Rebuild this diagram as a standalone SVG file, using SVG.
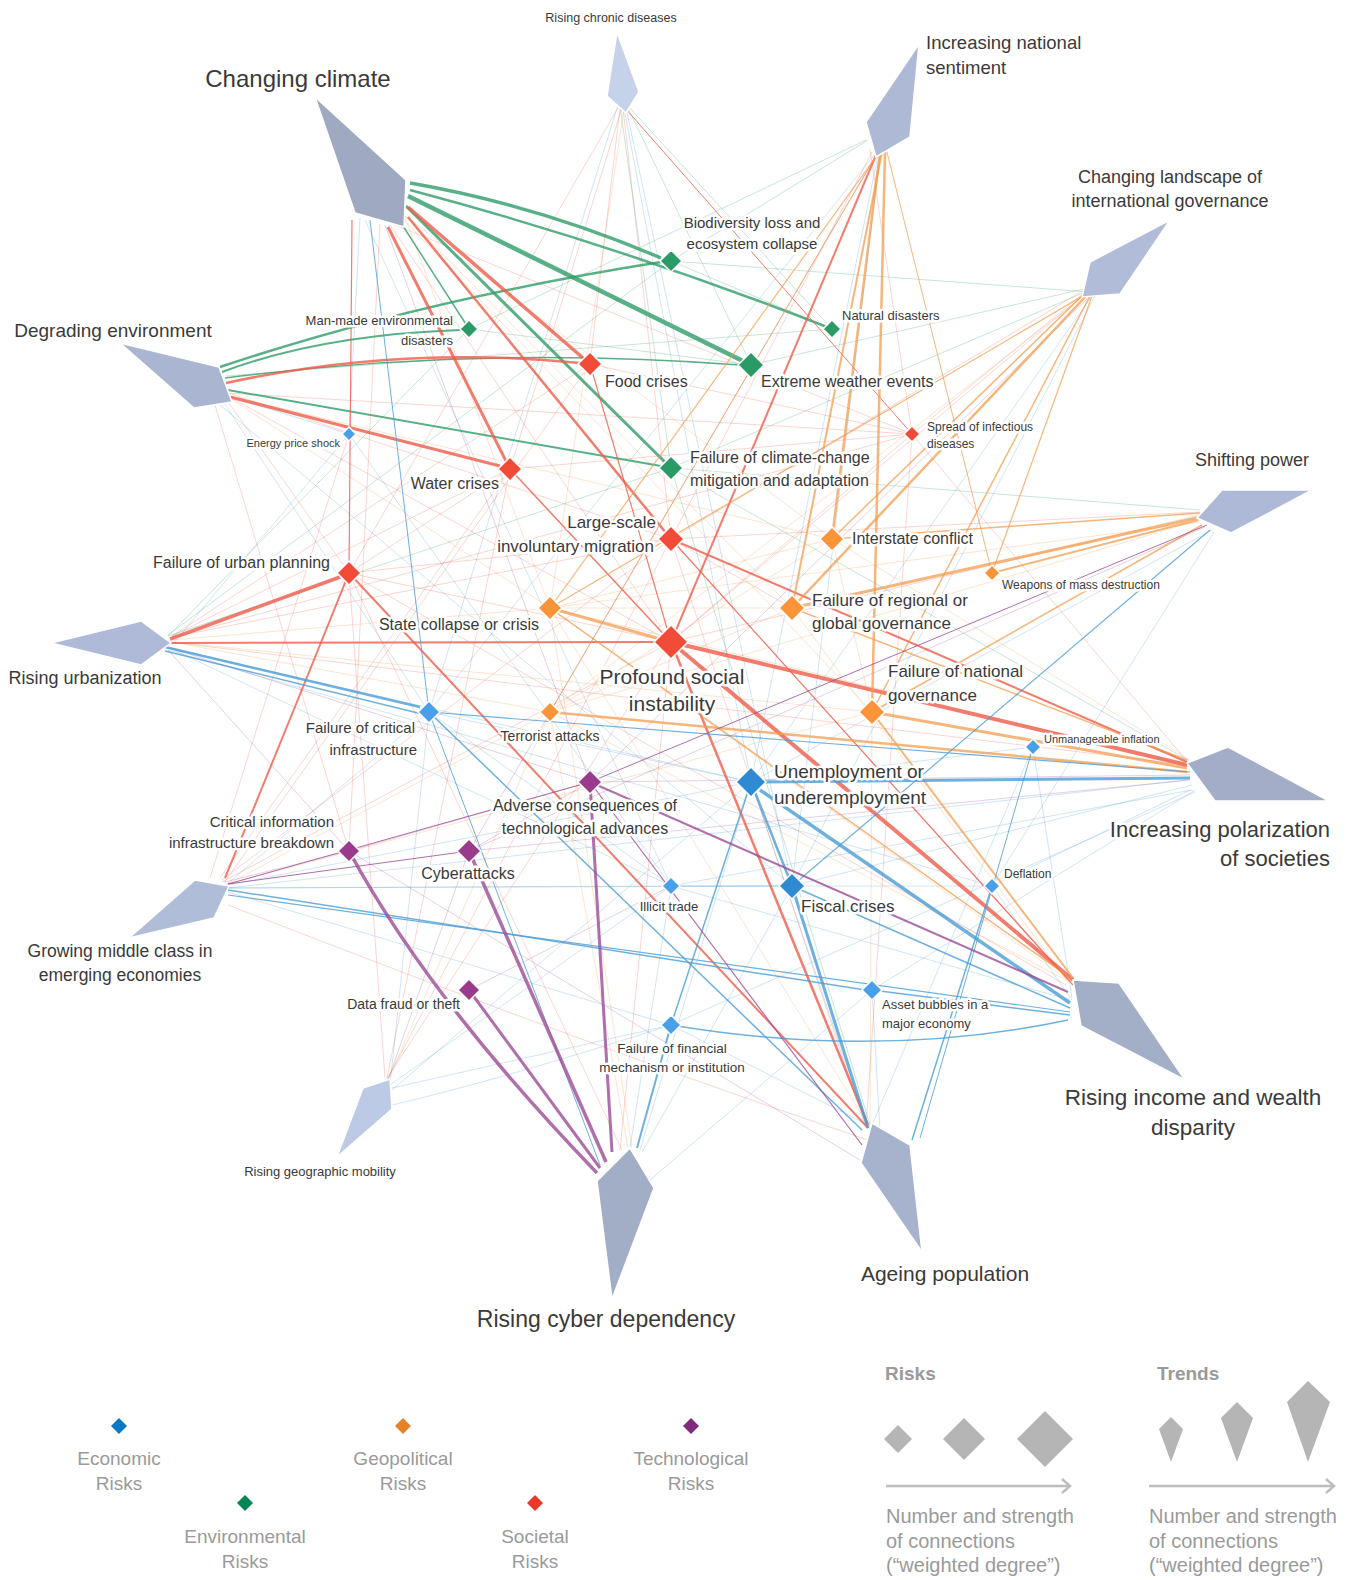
<svg xmlns="http://www.w3.org/2000/svg" width="1348" height="1580" viewBox="0 0 1348 1580">
<style>
.c path{fill:none}
.f{stroke-width:1;opacity:.26}
.m{opacity:.8}
.o.m{opacity:.72}
.g{stroke:#2f9c69}.r{stroke:#ef5b49}.o{stroke:#f39a48}.b{stroke:#4a9cd6}.p{stroke:#9b4b95}
.t{font-family:"Liberation Sans",Arial,sans-serif;fill:#3a3a3a;stroke:#fff;stroke-width:5;stroke-linejoin:round;paint-order:stroke}
.lg{font-family:"Liberation Sans",Arial,sans-serif;fill:#9a9a9a}
.tr{stroke:#fff;stroke-width:1.5}
.rk{stroke:#fff;stroke-width:1.5}
.G{fill:#2a9a66}.R{fill:#f24c38}.O{fill:#fa9438}.B{fill:#4aa0e8}.BD{fill:#2f8ad4}.P{fill:#9a3a8c}
</style>
<rect width="1348" height="1580" fill="#fff"/>
<g id="connectors" class="c">
<g id="faint">
<path class="r f" d="M622 108L510 469"/><path class="r f" d="M623 108L671 539"/><path class="r f" d="M620 108L590 364"/><path class="r f" d="M618 108L349 573"/>
<path class="b f" d="M618 105L429 712"/><path class="b f" d="M624 108L751 782"/><path class="b f" d="M626 108L792 886"/>
<path class="g f" d="M627 106L751 365"/><path class="g f" d="M628 106L832 329"/><path class="g f" d="M620 106L671 468"/><path class="o f" d="M624 108L550 608"/>
<path class="o f" d="M404 215L550 608"/><path class="o f" d="M404 215L832 539"/><path class="o f" d="M404 215L792 608"/><path class="o f" d="M402 218L872 712"/>
<path class="r f" d="M395 225L912 434"/><path class="r f" d="M390 225L671 642"/><path class="b f" d="M360 218L349 434"/><path class="b f" d="M365 220L671 886"/><path class="p f" d="M385 225L590 782"/><path class="r f" d="M380 224L349 851"/>
<path class="r f" d="M225 392L671 539"/><path class="r f" d="M226 393L912 434"/><path class="r f" d="M226 395L671 642"/><path class="r f" d="M224 396L349 573"/>
<path class="b f" d="M225 395L349 434"/><path class="b f" d="M222 400L429 712"/><path class="b f" d="M220 405L792 886"/><path class="o f" d="M225 395L550 608"/><path class="o f" d="M225 395L832 539"/><path class="g f" d="M226 376L832 329"/><path class="r f" d="M215 405L349 851"/>
<path class="r f" d="M172 636L510 469"/><path class="r f" d="M172 636L590 364"/><path class="r f" d="M172 637L671 539"/><path class="r f" d="M172 638L912 434"/><path class="r f" d="M170 642L1187 765"/>
<path class="g f" d="M168 635L671 261"/><path class="g f" d="M168 636L671 468"/><path class="g f" d="M168 636L469 329"/>
<path class="o f" d="M172 640L550 608"/><path class="o f" d="M172 642L550 712"/><path class="o f" d="M172 642L872 712"/>
<path class="b f" d="M170 648L671 886"/><path class="b f" d="M170 648L751 782"/><path class="b f" d="M168 650L992 886"/><path class="b f" d="M172 645L349 434"/>
<path class="p f" d="M168 650L349 851"/><path class="p f" d="M170 648L590 782"/>
<path class="r f" d="M222 880L671 539"/><path class="r f" d="M220 878L510 469"/><path class="r f" d="M222 882L671 642"/><path class="r f" d="M224 883L590 364"/><path class="r f" d="M210 878L349 434"/>
<path class="b f" d="M228 888L792 886"/><path class="b f" d="M228 885L751 782"/><path class="b f" d="M226 885L429 712"/><path class="b f" d="M228 888L671 886"/><path class="b f" d="M228 892L671 1025"/><path class="b f" d="M228 888L1187 780"/>
<path class="p f" d="M225 882L349 851"/><path class="o f" d="M228 884L550 712"/><path class="o f" d="M228 884L872 712"/><path class="r f" d="M228 905Q600 1050 868 1140"/>
<path class="r f" d="M385 1078L349 573"/><path class="r f" d="M387 1078L510 469"/><path class="r f" d="M388 1078L671 539"/><path class="r f" d="M386 1080L671 642"/>
<path class="b f" d="M390 1085L671 886"/><path class="b f" d="M390 1085L429 712"/><path class="b f" d="M392 1088L671 1025"/><path class="b f" d="M392 1090L751 782"/>
<path class="p f" d="M388 1080L469 851"/><path class="o f" d="M388 1080L550 712"/><path class="b f" d="M392 1105Q500 1080 671 1025"/>
<path class="b f" d="M640 1150L751 782"/><path class="b f" d="M642 1152L792 886"/><path class="b f" d="M630 1148L671 886"/><path class="b f" d="M650 1180L872 990"/>
<path class="o f" d="M628 1148L550 712"/><path class="o f" d="M632 1148L550 608"/><path class="r f" d="M620 1150L671 642"/><path class="r f" d="M622 1150L349 573"/>
<path class="b f" d="M868 1128L751 782"/><path class="b f" d="M880 1130L872 990"/><path class="b f" d="M878 1130L671 1025"/>
<path class="r f" d="M865 1125L671 539"/><path class="r f" d="M866 1128L912 434"/><path class="o f" d="M870 1125L872 712"/><path class="o f" d="M868 1125L550 608"/>
<path class="p f" d="M860 1160L349 851"/><path class="g f" d="M870 1125L671 468"/><path class="b f" d="M872 1125L1033 747"/>
<path class="b f" d="M1072 1000L992 886"/><path class="b f" d="M1072 998L1033 747"/><path class="b f" d="M1070 1000L671 886"/>
<path class="r f" d="M1068 980L671 539"/><path class="r f" d="M1066 985L349 573"/><path class="o f" d="M1068 980L550 608"/><path class="o f" d="M1068 982L792 608"/><path class="o f" d="M1070 982L550 712"/>
<path class="r f" d="M1186 760L912 434"/><path class="o f" d="M1187 765L550 608"/><path class="o f" d="M1190 760L832 539"/>
<path class="b f" d="M1192 785L792 886"/><path class="b f" d="M1192 790L671 886"/><path class="b f" d="M1190 790L992 886"/><path class="b f" d="M1195 790L872 990"/><path class="b f" d="M1195 792L671 1025"/>
<path class="p f" d="M1190 775L590 782"/><path class="g f" d="M1188 760L671 468"/><path class="p f" d="M1190 780L469 851"/>
<path class="o f" d="M1200 520L550 712"/><path class="p f" d="M1205 527L469 851"/><path class="b f" d="M1212 530L751 782"/><path class="b f" d="M1214 532L992 886"/>
<path class="g f" d="M1200 510L671 468"/><path class="r f" d="M1200 515L671 642"/><path class="r f" d="M1200 512L671 539"/>
<path class="o f" d="M1200 522L550 608"/><path class="g f" d="M1088 288L751 365"/><path class="g f" d="M1090 290L671 468"/><path class="g f" d="M1090 292L671 261"/>
<path class="b f" d="M1092 296L751 782"/><path class="b f" d="M1095 296L792 886"/><path class="r f" d="M1085 292L912 434"/><path class="r f" d="M1086 293L671 642"/><path class="r f" d="M1084 290L671 539"/><path class="p f" d="M1090 296L590 782"/><path class="o f" d="M1086 294L550 712"/>
<path class="r f" d="M872 152L671 539"/><path class="r f" d="M870 150L912 434"/><path class="b f" d="M878 155L751 782"/><path class="b f" d="M880 155L792 886"/><path class="b f" d="M874 155L429 712"/>
<path class="p f" d="M876 155L469 851"/><path class="g f" d="M868 140L671 261"/><path class="g f" d="M866 140L469 329"/>
<path class="r f" d="M349 573L510 469"/><path class="r f" d="M349 573L671 539"/><path class="r f" d="M671 539L792 608"/><path class="r f" d="M912 434L671 642"/><path class="r f" d="M590 364L912 434"/><path class="r f" d="M510 469L912 434"/><path class="r f" d="M349 573L671 642"/>
<path class="o f" d="M550 608L792 608"/><path class="o f" d="M832 539L872 712"/><path class="o f" d="M550 712L792 608"/><path class="o f" d="M832 539L550 712"/><path class="o f" d="M550 608L832 539"/>
<path class="b f" d="M429 712L751 782"/><path class="b f" d="M751 782L1033 747"/><path class="b f" d="M671 886L792 886"/><path class="b f" d="M429 712L671 886"/><path class="b f" d="M349 434L671 886"/><path class="b f" d="M992 886L671 886"/>
<path class="p f" d="M469 851L590 782"/><path class="p f" d="M349 851L590 782"/><path class="p f" d="M469 990L671 886"/><path class="g f" d="M671 261L832 329"/><path class="g f" d="M469 329L751 365"/>
</g>
<g id="major">
<path class="g m" stroke-width="3.5" d="M410 183Q537 205 661 258"/>
<path class="g m" stroke-width="2.5" d="M410 190Q621 246 832 329"/>
<path class="g m" stroke-width="4.5" d="M408 196L751 365"/>
<path class="g m" stroke-width="3" d="M406 206L671 468"/>
<path class="g m" stroke-width="1.5" d="M403 226L469 329"/>
<path class="g m" stroke-width="2.5" d="M220 367Q420 300 661 262"/>
<path class="g m" stroke-width="2" d="M222 372Q320 335 460 330"/>
<path class="g m" stroke-width="1.5" d="M225 378Q480 345 740 365"/>
<path class="g m" stroke-width="2" d="M228 390L661 466"/>
<path class="r m" stroke-width="3.5" d="M408 207L590 364"/>
<path class="r m" stroke-width="3" d="M388 227L510 469"/>
<path class="r m" stroke-width="2.5" d="M408 217L671 539"/>
<path class="r m" stroke-width="1.2" d="M352 220L349 573"/>
<path class="r m" stroke-width="2.5" d="M226 383Q400 345 580 363"/>
<path class="r m" stroke-width="3" d="M230 397L500 466"/>
<path class="r m" stroke-width="3.5" d="M170 639L340 577"/>
<path class="r m" stroke-width="2" d="M171 643L655 642"/>
<path class="r m" stroke-width="2" d="M349 573Q290 720 225 878"/>
<path class="r m" stroke-width="2" d="M349 573L868 1128"/>
<path class="r m" stroke-width="4" d="M671 642L1187 765"/>
<path class="r m" stroke-width="4" d="M671 642L1073 980"/>
<path class="r m" stroke-width="2.5" d="M671 642L868 1125"/>
<path class="r m" stroke-width="2" d="M671 642L876 155"/>
<path class="r m" stroke-width="2" d="M671 539L1187 762"/>
<path class="r m" stroke-width="1.5" d="M510 469L671 642"/>
<path class="r m" stroke-width="1.2" d="M590 364L671 642"/>
<path class="r m" stroke-width="1.2" d="M671 539L1073 985"/>
<path class="r m" stroke-width="1" d="M625 108L912 434"/>
<path class="o m" stroke-width="2.5" d="M880 152L832 539"/>
<path class="o m" stroke-width="2" d="M882 152L792 608"/>
<path class="o m" stroke-width="2.5" d="M885 152L872 712"/>
<path class="o m" stroke-width="1.2" d="M878 154L550 608"/>
<path class="o m" stroke-width="1" d="M877 154L550 712"/>
<path class="o m" stroke-width="1" d="M887 152L992 573"/>
<path class="o m" stroke-width="1.5" d="M1085 293L832 539"/>
<path class="o m" stroke-width="2.5" d="M1087 295L792 608"/>
<path class="o m" stroke-width="1.5" d="M1090 296L872 712"/>
<path class="o m" stroke-width="1.2" d="M1086 294L550 608"/>
<path class="o m" stroke-width="1.2" d="M1092 296L992 573"/>
<path class="o m" stroke-width="1.5" d="M1200 513L832 539"/>
<path class="o m" stroke-width="3" d="M1197 518L792 608"/>
<path class="o m" stroke-width="2" d="M1198 520L992 573"/>
<path class="o m" stroke-width="1.5" d="M1202 525L872 712"/>
<path class="o m" stroke-width="3" d="M872 712L1187 768"/>
<path class="o m" stroke-width="2.5" d="M550 712L1187 772"/>
<path class="o m" stroke-width="3" d="M550 608L671 642"/>
<path class="o m" stroke-width="1.5" d="M550 608L1073 980"/>
<path class="o m" stroke-width="2" d="M872 712L1073 978"/>
<path class="o m" stroke-width="1.5" d="M792 608L1187 760"/>
<path class="b m" stroke-width="3" d="M760 782L1190 778"/>
<path class="b m" stroke-width="3.5" d="M760 790L1070 1003"/>
<path class="b m" stroke-width="2.5" d="M751 782L792 886"/>
<path class="b m" stroke-width="3" d="M792 886L868 1128"/>
<path class="b m" stroke-width="1.5" d="M792 886L1070 1008"/>
<path class="b m" stroke-width="1.5" d="M872 990L1070 1015"/>
<path class="b m" stroke-width="1.5" d="M671 1025Q880 1060 1068 1020"/>
<path class="b m" stroke-width="2" d="M671 1025L637 1148"/>
<path class="b m" stroke-width="1.5" d="M671 1025L751 782"/>
<path class="b m" stroke-width="2.5" d="M165 647L420 707"/>
<path class="b m" stroke-width="1.5" d="M165 651L422 714"/>
<path class="b m" stroke-width="1.5" d="M429 712L862 1130"/>
<path class="b m" stroke-width="1.2" d="M429 712L1190 772"/>
<path class="b m" stroke-width="1" d="M429 712L600 1165"/>
<path class="b m" stroke-width="1" d="M370 220L429 712"/>
<path class="b m" stroke-width="1.5" d="M228 890L865 990"/>
<path class="b m" stroke-width="1.2" d="M228 895L1070 1012"/>
<path class="b m" stroke-width="1.5" d="M992 886L912 1140"/>
<path class="b m" stroke-width="1" d="M1033 747L920 1138"/>
<path class="b m" stroke-width="1.2" d="M1210 530L792 886"/>
<path class="p m" stroke-width="3.5" d="M349 851Q430 1000 597 1173"/>
<path class="p m" stroke-width="3" d="M469 990L600 1168"/>
<path class="p m" stroke-width="3.5" d="M469 851L606 1162"/>
<path class="p m" stroke-width="3" d="M590 782L612 1152"/>
<path class="p m" stroke-width="2" d="M590 782L1068 992"/>
<path class="p m" stroke-width="1.2" d="M590 782L862 1145"/>
<path class="p m" stroke-width="1" d="M590 782L1207 525"/>
<path class="p m" stroke-width="1" d="M228 884L590 782"/>
<path class="p m" stroke-width="1" d="M228 884L469 851"/>
</g>
</g>
<g id="trends">
<g id="t-chronic"><polygon class="tr" fill="#c5d2ea" points="617,32 639,92 626,113 607,96"/><text class="t" x="611" y="22" font-size="12.5" text-anchor="middle">Rising chronic diseases</text></g>
<g id="t-climate"><polygon class="tr" fill="#9fa9c1" points="315,97 406,180 404,227 355,213"/><text class="t" x="298" y="87" font-size="24" text-anchor="middle">Changing climate</text></g>
<g id="t-national"><polygon class="tr" fill="#adb9d5" points="919,44 910,137 876,157 866,122"/><text class="t" font-size="18.5"><tspan x="926" y="49">Increasing national</tspan><tspan x="926" y="74">sentiment</tspan></text></g>
<g id="t-landscape"><polygon class="tr" fill="#b0bcd8" points="1170,220 1120,294 1082,297 1090,262"/><text class="t" font-size="18" text-anchor="middle"><tspan x="1170" y="183">Changing landscape of</tspan><tspan x="1170" y="207">international governance</tspan></text></g>
<g id="t-shifting"><polygon class="tr" fill="#adb9d6" points="1312,490 1222,490 1197,518 1231,533"/><text class="t" x="1252" y="466" font-size="18" text-anchor="middle">Shifting power</text></g>
<g id="t-degrading"><polygon class="tr" fill="#aab5d1" points="120,343 219,367 232,402 194,408"/><text class="t" x="113" y="337" font-size="19" text-anchor="middle">Degrading environment</text></g>
<g id="t-urban"><polygon class="tr" fill="#aebad7" points="51,643 141,621 171,643 141,665"/><text class="t" x="85" y="684" font-size="18" text-anchor="middle">Rising urbanization</text></g>
<g id="t-polar"><polygon class="tr" fill="#a3adc8" points="1228,747 1329,801 1215,801 1187,763"/><text class="t" font-size="22" text-anchor="end"><tspan x="1330" y="837">Increasing polarization</tspan><tspan x="1330" y="866">of societies</tspan></text></g>
<g id="t-middle"><polygon class="tr" fill="#b0bdd9" points="195,880 229,886 214,918 129,938"/><text class="t" font-size="17.5" text-anchor="middle"><tspan x="120" y="957">Growing middle class in</tspan><tspan x="120" y="981">emerging economies</tspan></text></g>
<g id="t-income"><polygon class="tr" fill="#a3aec7" points="1073,980 1119,983 1185,1080 1081,1026"/><text class="t" font-size="22.5" text-anchor="middle"><tspan x="1193" y="1105">Rising income and wealth</tspan><tspan x="1193" y="1135">disparity</tspan></text></g>
<g id="t-ageing"><polygon class="tr" fill="#a7b2cc" points="872,1123 910,1145 922,1252 861,1163"/><text class="t" x="945" y="1281" font-size="21" text-anchor="middle">Ageing population</text></g>
<g id="t-cyber"><polygon class="tr" fill="#a2adc6" points="630,1148 654,1188 612,1299 597,1181"/><text class="t" x="606" y="1327" font-size="23" text-anchor="middle">Rising cyber dependency</text></g>
<g id="t-mobility"><polygon class="tr" fill="#bccae6" points="390,1079 392,1109 337,1157 363,1088"/><text class="t" x="320" y="1176" font-size="13" text-anchor="middle">Rising geographic mobility</text></g>
</g>
<g id="risks">
<g id="r-bio"><text class="t" font-size="15" text-anchor="middle"><tspan x="752" y="228">Biodiversity loss and</tspan><tspan x="752" y="249">ecosystem collapse</tspan></text><polygon class="rk G" points="671,250 682,261 671,272 660,261"/></g>
<g id="r-manmade"><text class="t" font-size="13" text-anchor="end"><tspan x="453" y="325">Man-made environmental</tspan><tspan x="453" y="345">disasters</tspan></text><polygon class="rk G" points="469,320 478,329 469,338 460,329"/></g>
<g id="r-natural"><text class="t" x="842" y="320" font-size="13">Natural disasters</text><polygon class="rk G" points="832,320 841,329 832,338 823,329"/></g>
<g id="r-extreme"><text class="t" x="761" y="387" font-size="16">Extreme weather events</text><polygon class="rk G" points="751,352 764,365 751,378 738,365"/></g>
<g id="r-fcc"><text class="t" font-size="16"><tspan x="690" y="463">Failure of climate-change</tspan><tspan x="690" y="486">mitigation and adaptation</tspan></text><polygon class="rk G" points="671,456 683,468 671,480 659,468"/></g>
<g id="r-food"><text class="t" x="605" y="387" font-size="16">Food crises</text><polygon class="rk R" points="590,352 602,364 590,376 578,364"/></g>
<g id="r-water"><text class="t" x="499" y="489" font-size="16" text-anchor="end">Water crises</text><polygon class="rk R" points="510,457 522,469 510,481 498,469"/></g>
<g id="r-spread"><text class="t" font-size="12"><tspan x="927" y="431">Spread of infectious</tspan><tspan x="927" y="448">diseases</tspan></text><polygon class="rk R" points="912,426 920,434 912,442 904,434"/></g>
<g id="r-migration"><text class="t" font-size="17" text-anchor="end"><tspan x="656" y="528">Large-scale</tspan><tspan x="654" y="552">involuntary migration</tspan></text><polygon class="rk R" points="671,526 684,539 671,552 658,539"/></g>
<g id="r-urbanplan"><text class="t" x="330" y="568" font-size="16" text-anchor="end">Failure of urban planning</text><polygon class="rk R" points="349,561 361,573 349,585 337,573"/></g>
<g id="r-profound"><text class="t" font-size="21" text-anchor="middle"><tspan x="672" y="684">Profound social</tspan><tspan x="672" y="711">instability</tspan></text><polygon class="rk R" points="671,625 688,642 671,659 654,642"/></g>
<g id="r-interstate"><text class="t" x="852" y="544" font-size="16">Interstate conflict</text><polygon class="rk O" points="832,527 844,539 832,551 820,539"/></g>
<g id="r-wmd"><text class="t" x="1002" y="589" font-size="12">Weapons of mass destruction</text><polygon class="rk O" points="992,565 1000,573 992,581 984,573"/></g>
<g id="r-state"><text class="t" x="539" y="630" font-size="16" text-anchor="end">State collapse or crisis</text><polygon class="rk O" points="550,596 562,608 550,620 538,608"/></g>
<g id="r-regional"><text class="t" font-size="17"><tspan x="812" y="606">Failure of regional or</tspan><tspan x="812" y="629">global governance</tspan></text><polygon class="rk O" points="792,595 805,608 792,621 779,608"/></g>
<g id="r-terror"><text class="t" x="550" y="741" font-size="14" text-anchor="middle">Terrorist attacks</text><polygon class="rk O" points="550,702 560,712 550,722 540,712"/></g>
<g id="r-national"><text class="t" font-size="17"><tspan x="888" y="677">Failure of national</tspan><tspan x="888" y="701">governance</tspan></text><polygon class="rk O" points="872,699 885,712 872,725 859,712"/></g>
<g id="r-energy"><text class="t" x="340" y="447" font-size="11" text-anchor="end">Energy price shock</text><polygon class="rk B" points="349,427 356,434 349,441 342,434"/></g>
<g id="r-critinf"><text class="t" font-size="15" text-anchor="end"><tspan x="415" y="733">Failure of critical</tspan><tspan x="417" y="755">infrastructure</tspan></text><polygon class="rk B" points="429,701 440,712 429,723 418,712"/></g>
<g id="r-inflation"><text class="t" x="1044" y="743" font-size="11">Unmanageable inflation</text><polygon class="rk B" points="1033,739 1041,747 1033,755 1025,747"/></g>
<g id="r-unemp"><text class="t" font-size="19"><tspan x="774" y="778">Unemployment or</tspan><tspan x="774" y="804">underemployment</tspan></text><polygon class="rk BD" points="751,767 766,782 751,797 736,782"/></g>
<g id="r-illicit"><text class="t" x="669" y="911" font-size="13" text-anchor="middle">Illicit trade</text><polygon class="rk B" points="671,877 680,886 671,895 662,886"/></g>
<g id="r-fiscal"><text class="t" x="801" y="912" font-size="17">Fiscal crises</text><polygon class="rk BD" points="792,873 805,886 792,899 779,886"/></g>
<g id="r-deflation"><text class="t" x="1004" y="878" font-size="12">Deflation</text><polygon class="rk B" points="992,878 1000,886 992,894 984,886"/></g>
<g id="r-asset"><text class="t" font-size="13"><tspan x="882" y="1009">Asset bubbles in a</tspan><tspan x="882" y="1028">major economy</tspan></text><polygon class="rk B" points="872,980 882,990 872,1000 862,990"/></g>
<g id="r-financial"><text class="t" font-size="13.5" text-anchor="middle"><tspan x="672" y="1053">Failure of financial</tspan><tspan x="672" y="1072">mechanism or institution</tspan></text><polygon class="rk B" points="671,1015 681,1025 671,1035 661,1025"/></g>
<g id="r-adverse"><text class="t" font-size="16" text-anchor="middle"><tspan x="585" y="811">Adverse consequences of</tspan><tspan x="585" y="834">technological advances</tspan></text><polygon class="rk P" points="590,770 602,782 590,794 578,782"/></g>
<g id="r-ciib"><text class="t" font-size="15" text-anchor="end"><tspan x="334" y="827">Critical information</tspan><tspan x="334" y="848">infrastructure breakdown</tspan></text><polygon class="rk P" points="349,840 360,851 349,862 338,851"/></g>
<g id="r-cyberatt"><text class="t" x="468" y="879" font-size="16" text-anchor="middle">Cyberattacks</text><polygon class="rk P" points="469,839 481,851 469,863 457,851"/></g>
<g id="r-datafraud"><text class="t" x="460" y="1009" font-size="14" text-anchor="end">Data fraud or theft</text><polygon class="rk P" points="469,979 480,990 469,1001 458,990"/></g>
</g>
<g id="legend">
<g id="lg-econ"><polygon fill="#0a79c4" points="119,1418 127,1426 119,1434 111,1426"/><text class="lg" font-size="19" text-anchor="middle"><tspan x="119" y="1465">Economic</tspan><tspan x="119" y="1490">Risks</tspan></text></g>
<g id="lg-env"><polygon fill="#048654" points="245,1495 253,1503 245,1511 237,1503"/><text class="lg" font-size="19" text-anchor="middle"><tspan x="245" y="1543">Environmental</tspan><tspan x="245" y="1568">Risks</tspan></text></g>
<g id="lg-geo"><polygon fill="#e8822a" points="403,1418 411,1426 403,1434 395,1426"/><text class="lg" font-size="19" text-anchor="middle"><tspan x="403" y="1465">Geopolitical</tspan><tspan x="403" y="1490">Risks</tspan></text></g>
<g id="lg-soc"><polygon fill="#e8382a" points="535,1495 543,1503 535,1511 527,1503"/><text class="lg" font-size="19" text-anchor="middle"><tspan x="535" y="1543">Societal</tspan><tspan x="535" y="1568">Risks</tspan></text></g>
<g id="lg-tech"><polygon fill="#7f2a7a" points="691,1418 699,1426 691,1434 683,1426"/><text class="lg" font-size="19" text-anchor="middle"><tspan x="691" y="1465">Technological</tspan><tspan x="691" y="1490">Risks</tspan></text></g>
<g id="lg-risks">
<text class="lg" x="885" y="1380" font-size="19" font-weight="bold" fill="#8a8a8a">Risks</text>
<polygon fill="#b5b5b5" points="898,1425 912,1439 898,1453 884,1439"/>
<polygon fill="#b5b5b5" points="964,1418 985,1439 964,1460 943,1439"/>
<polygon fill="#b5b5b5" points="1045,1411 1073,1439 1045,1467 1017,1439"/>
<path d="M886 1486H1070M1062 1479L1070 1486L1062 1493" fill="none" stroke="#bdbdbd" stroke-width="2.5"/>
<text class="lg" font-size="20"><tspan x="886" y="1523">Number and strength</tspan><tspan x="886" y="1548">of connections</tspan><tspan x="886" y="1572">(“weighted degree”)</tspan></text>
</g>
<g id="lg-trends">
<text class="lg" x="1157" y="1380" font-size="19" font-weight="bold" fill="#8a8a8a">Trends</text>
<polygon fill="#b5b5b5" points="1171,1417 1183,1429 1171,1462 1159,1429"/>
<polygon fill="#b5b5b5" points="1237,1402 1253,1418 1237,1462 1221,1418"/>
<polygon fill="#b5b5b5" points="1308,1381 1330,1402 1308,1462 1287,1402"/>
<path d="M1149 1486H1334M1326 1479L1334 1486L1326 1493" fill="none" stroke="#bdbdbd" stroke-width="2.5"/>
<text class="lg" font-size="20"><tspan x="1149" y="1523">Number and strength</tspan><tspan x="1149" y="1548">of connections</tspan><tspan x="1149" y="1572">(“weighted degree”)</tspan></text>
</g>
</g>
</svg>
